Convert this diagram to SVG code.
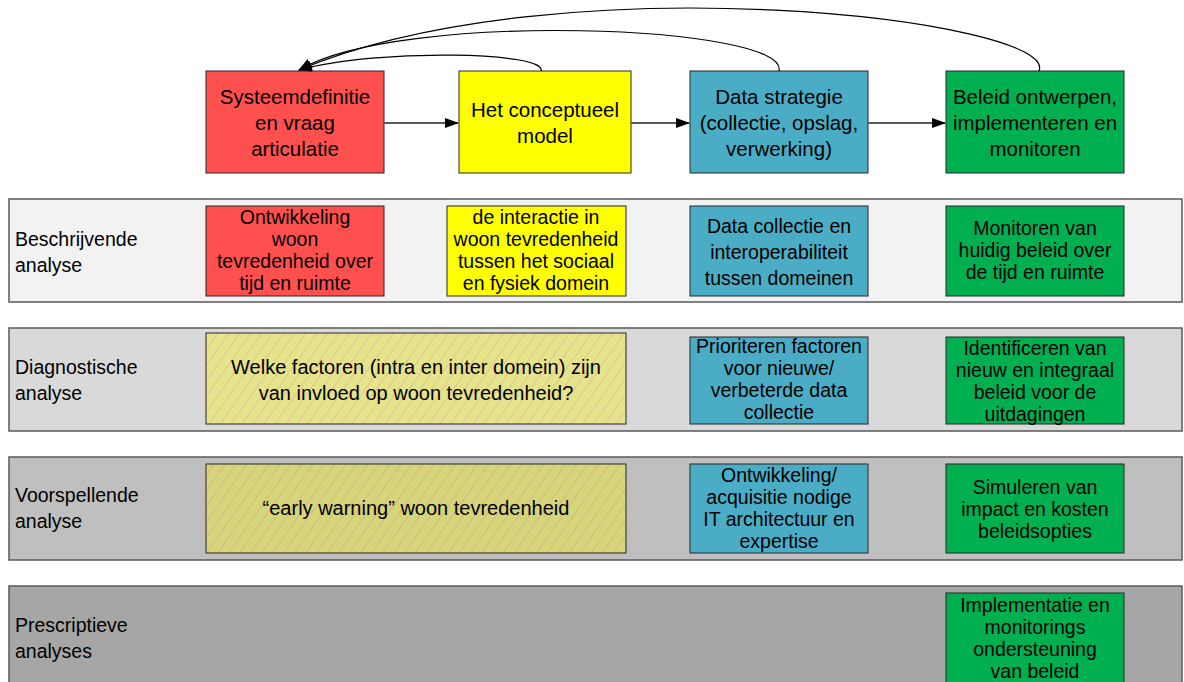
<svg xmlns="http://www.w3.org/2000/svg" width="1184" height="682" viewBox="0 0 1184 682">
<style>
text{font-family:"Liberation Sans",Arial,sans-serif;fill:#000}
.t{font-size:20.5px;text-anchor:middle}
.m{font-size:19.5px;text-anchor:middle}
.l{font-size:19.5px}
.big{font-size:20px;text-anchor:middle}
.box{stroke:#262626;stroke-width:1}
.row{stroke:#595959;stroke-width:1.5}
.red{fill:#ff5050}.yel{fill:#ffff00}.blu{fill:#4bacc6}.grn{fill:#00b050}
.h{stroke:#262626;stroke-width:1}
.conn{fill:none;stroke:#000;stroke-width:1.2}
.harr{stroke:#595959;stroke-width:2;fill:none}
</style>
<defs>
<marker id="ah" markerWidth="14" markerHeight="10" refX="13" refY="5" orient="auto" markerUnits="userSpaceOnUse">
<path d="M0,0 L14,5 L0,10 Z" fill="#000"/>
</marker>
<pattern id="hatch2" width="9" height="9" patternUnits="userSpaceOnUse" patternTransform="rotate(35)">
<rect width="9" height="9" fill="#e4e48a"/>
<line x1="0" y1="0" x2="0" y2="9" stroke="#e8a6a0" stroke-width="1.2"/>
</pattern>
<pattern id="hatch3" width="9" height="9" patternUnits="userSpaceOnUse" patternTransform="rotate(35)">
<rect width="9" height="9" fill="#d5d57a"/>
<line x1="0" y1="0" x2="0" y2="9" stroke="#dba090" stroke-width="1.2"/>
</pattern>
</defs>

<!-- rows -->
<g id="row1"><rect class="row" x="9" y="199" width="1173" height="103" fill="#f2f2f2"/><text class="l" x="15" y="246">Beschrijvende</text><text class="l" x="15" y="272">analyse</text></g>
<g id="row2"><rect class="row" x="9" y="328" width="1173" height="103" fill="#d9d9d9"/><text class="l" x="15" y="374">Diagnostische</text><text class="l" x="15" y="400">analyse</text></g>
<g id="row3"><rect class="row" x="9" y="457" width="1173" height="103" fill="#bfbfbf"/><text class="l" x="15" y="502">Voorspellende</text><text class="l" x="15" y="528">analyse</text></g>
<g id="row4"><rect class="row" x="9" y="586" width="1173" height="100" fill="#a6a6a6"/><text class="l" x="15" y="632">Prescriptieve</text><text class="l" x="15" y="658">analyses</text></g>

<!-- top nodes -->
<g id="n-systeem"><rect class="box red" x="206" y="71" width="178" height="102"/>
<text class="t" x="295" y="104">Systeemdefinitie</text><text class="t" x="295" y="130">en vraag</text><text class="t" x="295" y="156">articulatie</text></g>
<g id="n-model"><rect class="box yel" x="459" y="71" width="172" height="102"/>
<text class="t" x="545" y="117">Het conceptueel</text><text class="t" x="545" y="143">model</text></g>
<g id="n-data"><rect class="box blu" x="690" y="71" width="178" height="102"/>
<text class="t" x="779" y="104">Data strategie</text><text class="t" x="779" y="130">(collectie, opslag,</text><text class="t" x="779" y="156">verwerking)</text></g>
<g id="n-beleid"><rect class="box grn" x="946" y="71" width="178" height="102"/>
<text class="t" x="1035" y="104">Beleid ontwerpen,</text><text class="t" x="1035" y="130">implementeren en</text><text class="t" x="1035" y="156">monitoren</text></g>

<!-- row 1 nodes -->
<g id="r1-red"><rect class="box red" x="206" y="206" width="178" height="90"/>
<text class="m" x="295" y="224">Ontwikkeling</text><text class="m" x="295" y="246">woon</text><text class="m" x="295" y="268">tevredenheid over</text><text class="m" x="295" y="290">tijd en ruimte</text></g>
<g id="r1-yel"><rect class="box yel" x="447" y="206" width="179" height="90"/>
<text class="m" x="536" y="224">de interactie in</text><text class="m" x="536" y="246">woon tevredenheid</text><text class="m" x="536" y="268">tussen het sociaal</text><text class="m" x="536" y="290">en fysiek domein</text></g>
<g id="r1-blu"><rect class="box blu" x="690" y="206" width="178" height="90"/>
<text class="m" x="779" y="233">Data collectie en</text><text class="m" x="779" y="259">interoperabiliteit</text><text class="m" x="779" y="285">tussen domeinen</text></g>
<g id="r1-grn"><rect class="box grn" x="946" y="206" width="178" height="90"/>
<text class="m" x="1035" y="235">Monitoren van</text><text class="m" x="1035" y="257">huidig beleid over</text><text class="m" x="1035" y="279">de tijd en ruimte</text></g>

<!-- row 2 nodes -->
<g id="r2-hatch"><rect class="h" x="206" y="333" width="420" height="91" fill="url(#hatch2)"/>
<text class="big" x="416" y="374">Welke factoren (intra en inter domein) zijn</text><text class="big" x="416" y="400">van invloed op woon tevredenheid?</text></g>
<g id="r2-blu"><rect class="box blu" x="690" y="337" width="178" height="87"/>
<text class="m" x="779" y="353">Prioriteren factoren</text><text class="m" x="779" y="375">voor nieuwe/</text><text class="m" x="779" y="397">verbeterde data</text><text class="m" x="779" y="419">collectie</text></g>
<g id="r2-grn"><rect class="box grn" x="946" y="337" width="178" height="87"/>
<text class="m" x="1035" y="355">Identificeren van</text><text class="m" x="1035" y="377">nieuw en integraal</text><text class="m" x="1035" y="399">beleid voor de</text><text class="m" x="1035" y="421">uitdagingen</text></g>

<!-- row 3 nodes -->
<g id="r3-hatch"><rect class="h" x="206" y="464" width="420" height="89" fill="url(#hatch3)"/>
<text class="big" x="416" y="515">“early warning” woon tevredenheid</text></g>
<g id="r3-blu"><rect class="box blu" x="690" y="464" width="178" height="89"/>
<text class="m" x="779" y="482">Ontwikkeling/</text><text class="m" x="779" y="504">acquisitie nodige</text><text class="m" x="779" y="526">IT architectuur en</text><text class="m" x="779" y="548">expertise</text></g>
<g id="r3-grn"><rect class="box grn" x="946" y="464" width="178" height="89"/>
<text class="m" x="1035" y="494">Simuleren van</text><text class="m" x="1035" y="516">impact en kosten</text><text class="m" x="1035" y="538">beleidsopties</text></g>

<!-- row 4 nodes -->
<g id="r4-grn"><rect class="box grn" x="946" y="593" width="178" height="95"/>
<text class="m" x="1035" y="612">Implementatie en</text><text class="m" x="1035" y="634">monitorings</text><text class="m" x="1035" y="656">ondersteuning</text><text class="m" x="1035" y="678">van beleid</text></g>

<!-- connectors -->
<g id="connectors">
<line class="harr" x1="384" y1="123" x2="458" y2="123" marker-end="url(#ah)"/>
<line class="harr" x1="631" y1="123" x2="689" y2="123" marker-end="url(#ah)"/>
<line class="harr" x1="868" y1="123" x2="945" y2="123" marker-end="url(#ah)"/>
<path class="conn" d="M541,71 C548,52 380,48 299,70" marker-end="url(#ah)"/>
<path class="conn" d="M779,71 C790,25 400,10 299,70" marker-end="url(#ah)"/>
<path class="conn" d="M1039,71 C1060,20 560,-40 299,70" marker-end="url(#ah)"/>
</g>
</svg>
